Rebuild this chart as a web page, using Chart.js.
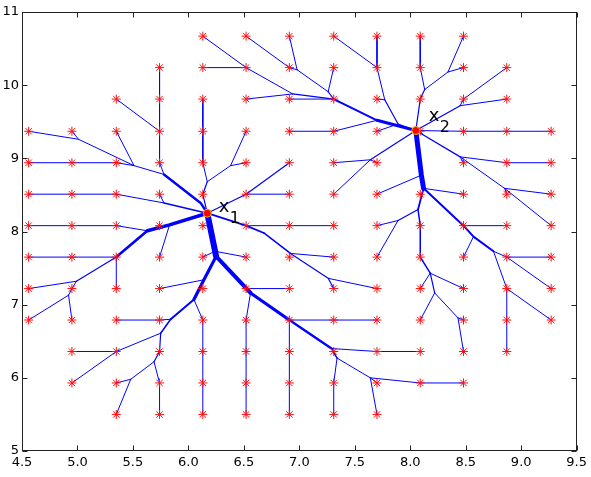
<!DOCTYPE html>
<html><head><meta charset="utf-8">
<script src="https://cdn.jsdelivr.net/npm/chart.js@4.4.1/dist/chart.umd.min.js"></script>
<style>html,body{margin:0;padding:0;background:#fff}canvas{display:block}</style>
</head><body>
<canvas id="c" width="591" height="477"></canvas>
<script>
// ---- data ----
const xGrid = [4.56,4.95,5.35,5.74,6.13,6.52,6.91,7.31,7.70,8.09,8.48,8.87,9.27];
const yGrid = [5.50,5.93,6.36,6.79,7.22,7.65,8.08,8.51,8.94,9.37,9.81,10.24,10.67];
const rowFirstCol = [2,1,1,0,0,0,0,0,0,0,2,3,4];
const rowLastCol  = [8,10,11,12,12,12,12,12,12,12,11,11,10];
const hiddenSinks = ["9,8"];

const sourceNames = ["x1","x2"];
const sourceX = [6.17, 8.05];
const sourceY = [8.25, 9.38];
const labelMain = ["x","x"];
const labelSub = ["1","2"];
const labelX = [6.273, 8.167];
const labelY = [8.272, 9.515];

const xTicks = [4.5,5,5.5,6,6.5,7,7.5,8,8.5,9,9.5];
const yTicks = [5,6,7,8,9,10,11];

const junctions = {
  A:[5.01,9.26], B:[5.51,8.90], C:[5.78,8.78], C2:[6.11,8.39], D:[5.78,8.39],
  E:[5.63,8.01], G:[5.83,8.09], T:[6.19,8.08], Jf:[4.99,7.32], Jg:[4.92,7.13],
  Jcc:[6.38,8.90], Jdd:[6.17,8.68], K:[6.68,7.98], L:[6.92,7.70], Jmm:[7.26,7.36],
  Jt1:[6.25,7.66], M:[6.24,7.73], Jee:[6.56,7.16], Jff:[7.29,6.40], Jgg:[7.34,6.27],
  Jhh:[7.64,6.00], Jii:[6.05,7.07], R:[6.14,7.34], Joo:[5.84,6.80], Jkk:[5.75,6.61],
  Jll:[5.69,6.22], Jpp:[5.48,5.98],
  Jk:[6.98,10.21], Jl:[7.26,9.91], Jm:[6.94,9.88], Ju:[7.70,9.52], Jn:[7.77,9.80],
  Jn2:[7.89,9.47], Jo:[8.13,9.94], Jp:[8.34,10.18], Jq:[8.45,9.72], Jr:[8.45,9.02],
  Js:[8.85,8.59], Jv:[7.64,8.98], Jw:[8.12,8.59], S:[8.10,8.77], JtB:[8.07,8.30],
  Jbb:[7.89,8.15], Jy:[8.18,7.43], Jz:[8.22,7.16], Jaa:[8.43,6.82], P:[8.57,7.93],
  Jx:[8.75,7.73]
};

// branch paths (node names) with their flow weight (line width)
const branchWidths = [];
const branchPaths = [];
function br(w, ...p){ branchWidths.push(w); branchPaths.push(p); }
// tree of x1
br(6,"x1","Jt1");
br(4,"Jt1","Jee"); br(3.2,"Jee","6,3"); br(2.4,"6,3","Jff");
br(3.2,"Jt1","R","Jii"); br(2,"Jii","Joo"); br(1.5,"Joo","Jkk"); br(1.2,"Jkk","3,2","Jll");
br(3.5,"x1","G","E"); br(2.6,"E","2,5");
br(2.4,"x1","C2","C");
br(1.5,"x1","D");
br(1.2,"x1","4,7","Jdd");
br(1.2,"x1","5,7","6,8");
br(1.8,"x1","5,6","K"); br(1.5,"K","L"); br(1,"L","7,5");
br(1.2,"L","Jmm","7,4"); br(1,"Jmm","8,4");
br(1,"0,9","A","B","C"); br(1,"1,9","A"); br(1,"2,9","B");
br(1,"0,8","1,8","2,8","B");
br(1,"2,10","3,9");
br(1,"3,11","3,10","3,9","3,8","C");
br(1,"0,7","1,7","2,7","D"); br(1,"3,7","D");
br(1,"0,6","1,6","2,6","E");
br(1,"0,5","1,5","2,5"); br(1,"2,4","2,5");
br(1,"0,4","Jf"); br(1,"0,3","Jg"); br(1,"1,3","Jg"); br(1,"Jg","1,4","Jf"); br(1.2,"Jf","2,5");
br(1,"3,5","G"); br(1,"4,6","T");
br(1,"4,10","4,9","4,8","Jdd");
br(1,"5,9","Jcc"); br(1,"5,8","Jcc"); br(1,"Jcc","Jdd");
br(1,"6,7","5,7");
br(1,"5,6","6,6","7,6");
br(1,"4,5","M"); br(1,"5,5","M");
br(1,"6,4","5,4","Jee");
br(1,"5,0","5,1","5,2","5,3","Jee");
br(1,"6,0","6,1","6,2","6,3");
br(1,"6,3","7,3","8,3");
br(1,"9,2","8,2","Jff");
br(1.5,"Jff","Jgg"); br(1,"7,0","7,1","Jgg"); br(1,"Jgg","Jhh");
br(1,"8,0","Jhh"); br(1,"10,1","9,1","Jhh"); br(1,"8,1","Jhh");
br(1,"4,0","4,1","4,2","4,3","Jii");
br(1,"3,4","R");
br(1,"2,3","3,3","Joo");
br(1,"1,2","2,2","Jkk"); br(1,"1,1","2,2");
br(1,"3,0","3,1","Jll"); br(1,"2,0","Jpp"); br(1,"2,1","Jpp"); br(1,"Jpp","Jll");
// tree of x2
br(1,"4,12","5,11","Jm"); br(1,"4,11","5,11"); br(1,"5,10","Jm");
br(1.2,"Jm","7,10"); br(1,"6,10","7,10");
br(1,"5,12","6,11","Jk"); br(1,"6,12","Jk"); br(1,"Jk","Jl"); br(1,"7,11","Jl"); br(1.2,"Jl","7,10");
br(2,"7,10","Ju"); br(3,"Ju","x2");
br(1,"6,9","7,9","Ju");
br(1,"7,12","8,11"); br(1,"8,12","8,11"); br(1,"8,11","Jn"); br(1,"8,10","Jn");
br(1.2,"Jn","Jn2","x2"); br(1,"8,9","Jn2");
br(1,"9,12","9,11","Jo"); br(1,"10,12","Jp"); br(1,"10,11","Jp"); br(1,"Jp","Jo"); br(1.2,"Jo","9,10","x2");
br(1,"11,11","10,10","Jq"); br(1,"11,10","Jq"); br(1.2,"Jq","x2");
br(1,"12,9","11,9","10,9","x2");
br(1.2,"x2","Jr"); br(1,"10,8","Jr"); br(1,"12,8","11,8","Jr");
br(1,"Jr","Js","12,6"); br(1,"12,7","Js"); br(1,"11,7","Js");
br(1,"7,8","Jv"); br(1,"7,7","Jv"); br(1,"8,8","Jv"); br(1.2,"Jv","x2");
br(5,"x2","S","Jw");
br(1,"8,7","S"); br(1,"10,7","Jw");
br(2,"Jw","10,6","P","Jx");
br(1,"11,6","10,6"); br(1,"10,5","P");
br(1,"12,5","11,5","Jx"); br(1,"12,4","11,5");
br(1,"11,2","11,3","11,4","Jx"); br(1,"12,3","11,4");
br(1.8,"Jw","JtB"); br(1.5,"JtB","9,6","9,5","Jy");
br(1,"8,6","Jbb"); br(1,"8,5","Jbb"); br(1.2,"Jbb","JtB");
br(1,"9,4","Jy"); br(1,"10,4","Jy"); br(1.2,"Jz","Jy"); br(1,"9,3","Jz");
br(1,"Jaa","Jz"); br(1,"10,3","Jaa"); br(1,"10,2","Jaa");

// ---- build datasets ----
function node(name){
  if (/^\d+,\d+$/.test(name)) { const [i,j] = name.split(",").map(Number); return {x:xGrid[i], y:yGrid[j]}; }
  const s = sourceNames.indexOf(name);
  if (s >= 0) return {x:sourceX[s], y:sourceY[s]};
  const p = junctions[name]; return {x:p[0], y:p[1]};
}
const sinkPts = [];
for (let j=0;j<yGrid.length;j++){
  for (let i=rowFirstCol[j]; i<=rowLastCol[j]; i++){
    if (hiddenSinks.includes(i+","+j)) continue;
    sinkPts.push({x:xGrid[i], y:yGrid[j]});
  }
}
const datasets = [];
datasets.push({data: sourceNames.map((n,k)=>({x:sourceX[k], y:sourceY[k]})), showLine:false,
  pointStyle:'circle', pointRadius:4, backgroundColor:'#ff0000', borderColor:'#f0b400', borderWidth:1, order:1});
datasets.push({data: sinkPts, showLine:false, pointStyle:'star', pointRadius:4.5,
  borderColor:'#ff1010', backgroundColor:'#ff1010', borderWidth:1, order:2});
branchPaths.forEach((p,k)=>{
  datasets.push({data:p.map(node), showLine:true, pointRadius:0, borderColor:'#0000ff',
    borderWidth:branchWidths[k], borderJoinStyle:'round', borderCapStyle:'round', tension:0, fill:false, order:3});
});

const framePlugin = {
  id:'frame',
  afterDraw(chart){
    const {ctx, chartArea:a, scales:{x,y}} = chart;
    ctx.save();
    ctx.strokeStyle = '#222'; ctx.lineWidth = 1;
    const L = Math.round(a.left)+0.5, R = Math.round(a.right)-0.5, T = Math.round(a.top)+0.5, B = Math.round(a.bottom)-0.5;
    ctx.strokeRect(L, T, R-L, B-T);
    ctx.beginPath();
    xTicks.forEach(v=>{ const px = Math.round(x.getPixelForValue(v))+0.5;
      ctx.moveTo(px,B); ctx.lineTo(px,B-5); ctx.moveTo(px,T); ctx.lineTo(px,T+5); });
    yTicks.forEach(v=>{ const py = Math.round(y.getPixelForValue(v))+0.5;
      ctx.moveTo(L,py); ctx.lineTo(L+5,py); ctx.moveTo(R,py); ctx.lineTo(R-5,py); });
    ctx.stroke();
    // source labels
    ctx.fillStyle = '#000'; ctx.textBaseline = 'alphabetic'; ctx.textAlign = 'left';
    sourceNames.forEach((n,k)=>{
      const px = x.getPixelForValue(labelX[k]), py = y.getPixelForValue(labelY[k]);
      ctx.font = '18px "DejaVu Sans"'; ctx.fillText(labelMain[k], px, py);
      ctx.font = '16px "DejaVu Sans"'; ctx.fillText(labelSub[k], px+11, py+11);
    });
    ctx.restore();
  }
};

new Chart(document.getElementById('c'), {
  type:'scatter',
  data:{datasets},
  options:{
    responsive:false, animation:false, events:[],
    layout:{padding:{left:0, top:12, right:12, bottom:0}},
    plugins:{legend:{display:false}, tooltip:{enabled:false}},
    scales:{
      x:{type:'linear', min:4.5, max:9.5, afterFit(s){s.height=26;},
        afterBuildTicks(s){ s.ticks = xTicks.map(v=>({value:v})); },
        grid:{display:false, drawTicks:false}, border:{display:false},
        ticks:{padding:4, color:'#000', font:{family:'DejaVu Sans', size:13}, maxRotation:0, autoSkip:false}},
      y:{type:'linear', min:5, max:11, afterFit(s){s.width=22;},
        afterBuildTicks(s){ s.ticks = yTicks.map(v=>({value:v})); },
        grid:{display:false, drawTicks:false}, border:{display:false},
        ticks:{padding:3, color:'#000', font:{family:'DejaVu Sans', size:13}, autoSkip:false}}
    }
  },
  plugins:[framePlugin]
});
</script>
</body></html>
